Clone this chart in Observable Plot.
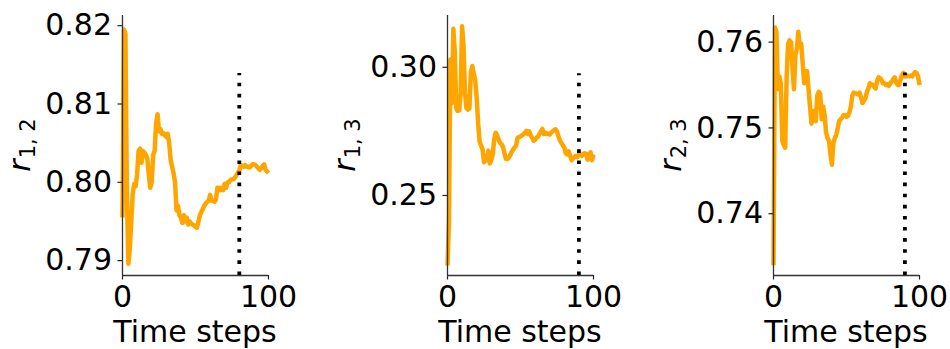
<!DOCTYPE html>
<html>
<head>
<meta charset="utf-8">
<script src="https://cdn.jsdelivr.net/npm/d3@7"></script>
<script src="https://cdn.jsdelivr.net/npm/@observablehq/plot@0.6"></script>
<style>
  html, body { margin: 0; padding: 0; background: #fff; }
  #chart { position: relative; width: 950px; height: 349px; overflow: hidden; background: #fff; }
  #chart svg { position: absolute; top: 0; }
</style>
</head>
<body>
<div id="chart"></div>
<script>
const timeSteps = d3.range(0, 101);

const r12 = [0.7955, 0.8195, 0.8190, 0.7990, 0.7896, 0.7915, 0.7950, 0.7985, 0.7998, 0.7995,
 0.8010, 0.8040, 0.8043, 0.8025, 0.8040, 0.8038, 0.8035, 0.8030, 0.8010, 0.7993,
 0.8000, 0.8035, 0.8040, 0.8075, 0.8087, 0.8065, 0.8068, 0.8062, 0.8063, 0.8060,
 0.8058, 0.8062, 0.8050, 0.8028, 0.8020, 0.8011, 0.8000, 0.7964, 0.7970, 0.7958,
 0.7955, 0.7948, 0.7958, 0.7950, 0.7955, 0.7946, 0.7950, 0.7947, 0.7946, 0.7945,
 0.7943, 0.7942, 0.7950, 0.7958, 0.7962, 0.7966, 0.7970, 0.7973, 0.7975, 0.7976,
 0.7984, 0.7977, 0.7976, 0.7975, 0.7978, 0.7993, 0.7993, 0.7990, 0.7993, 0.7990,
 0.7998, 0.7993, 0.8000, 0.8000, 0.8003, 0.8004, 0.8004, 0.8006, 0.8009, 0.8012,
 0.8015, 0.8022, 0.8021, 0.8020, 0.8022, 0.8020, 0.8020, 0.8019, 0.8021, 0.8023,
 0.8023, 0.8022, 0.8020, 0.8018, 0.8016, 0.8018, 0.8021, 0.8023, 0.8016, 0.8014, 0.8012];

const r13 = [0.2227, 0.2400, 0.3030, 0.2860, 0.3150, 0.3060, 0.2840, 0.2830, 0.2832, 0.2900,
 0.3160, 0.3080, 0.2900, 0.2840, 0.2835, 0.2840, 0.2980, 0.3005, 0.2975, 0.2950,
 0.2880, 0.2780, 0.2710, 0.2695, 0.2680, 0.2630, 0.2635, 0.2645, 0.2675, 0.2625,
 0.2640, 0.2660, 0.2720, 0.2745, 0.2735, 0.2718, 0.2705, 0.2700, 0.2690, 0.2665,
 0.2643, 0.2642, 0.2648, 0.2658, 0.2670, 0.2680, 0.2688, 0.2695, 0.2725, 0.2728,
 0.2730, 0.2735, 0.2738, 0.2745, 0.2752, 0.2740, 0.2750, 0.2735, 0.2725, 0.2714,
 0.2718, 0.2725, 0.2730, 0.2740, 0.2750, 0.2760, 0.2740, 0.2745, 0.2740, 0.2742,
 0.2738, 0.2745, 0.2750, 0.2755, 0.2758, 0.2750, 0.2730, 0.2715, 0.2705, 0.2695,
 0.2688, 0.2665, 0.2660, 0.2672, 0.2655, 0.2638, 0.2645, 0.2650, 0.2655, 0.2650,
 0.2658, 0.2660, 0.2655, 0.2662, 0.2665, 0.2662, 0.2640, 0.2660, 0.2668, 0.2638, 0.2660];

const r23 = [0.7340, 0.7617, 0.7612, 0.7545, 0.7560, 0.7552, 0.7485, 0.7480, 0.7477, 0.7560,
 0.7598, 0.7602, 0.7600, 0.7570, 0.7545, 0.7585, 0.7592, 0.7612, 0.7595, 0.7598,
 0.7575, 0.7552, 0.7566, 0.7566, 0.7545, 0.7525, 0.7505, 0.7515, 0.7520, 0.7508,
 0.7538, 0.7542, 0.7540, 0.7510, 0.7525, 0.7515, 0.7495, 0.7488, 0.7485, 0.7470,
 0.7457, 0.7482, 0.7488, 0.7492, 0.7500, 0.7508, 0.7510, 0.7512, 0.7515, 0.7515,
 0.7513, 0.7514, 0.7518, 0.7525, 0.7538, 0.7541, 0.7540, 0.7540, 0.7539, 0.7541,
 0.7535, 0.7529, 0.7532, 0.7535, 0.7542, 0.7546, 0.7552, 0.7551, 0.7550, 0.7548,
 0.7546, 0.7555, 0.7559, 0.7558, 0.7556, 0.7552, 0.7552, 0.7550, 0.7551, 0.7549,
 0.7552, 0.7554, 0.7557, 0.7559, 0.7553, 0.7550, 0.7550, 0.7556, 0.7562, 0.7564,
 0.7560, 0.7560, 0.7561, 0.7560, 0.7561, 0.7560, 0.7563, 0.7565, 0.7564, 0.7560, 0.7550];

const seriesList = [r12, r13, r23];
const subscripts = ["1, 2", "1, 3", "2, 3"];
const cutoffs = [80, 90, 90];
const cutoffTops = [0.8139, 0.2975, 0.7564];
const yDomains = [[0.7881, 0.8213], [0.2188, 0.3202], [0.7328, 0.7631]];
const yTicks = [[0.79, 0.80, 0.81, 0.82], [0.25, 0.30], [0.74, 0.75, 0.76]];
const xTicks = [0, 100];
const xLabel = "Time steps";

const FONT = "DejaVu Sans";
const FS = 30;
const panelLefts = [0, 325, 650.7];
const W = 325, H = 349, ML = 122, MR = 57, MT = 15, MB = 74;

const chart = document.getElementById("chart");

seriesList.forEach((vals, i) => {
  const data = timeSteps.map((t, k) => ({t, v: vals[k]}));
  const [lo, hi] = yDomains[i];
  const svg = Plot.plot({
    width: W, height: H,
    marginLeft: ML, marginRight: MR, marginTop: MT, marginBottom: MB,
    style: {fontFamily: FONT, fontSize: FS + "px", color: "black", background: "white", overflow: "visible"},
    x: {domain: [0, 100]},
    y: {domain: [lo, hi]},
    marks: [
      Plot.line(data, {x: "t", y: "v", stroke: "#FFA500", strokeWidth: 4.5, strokeLinejoin: "round", strokeLinecap: "butt"}),
      Plot.ruleX([cutoffs[i]], {y1: lo, y2: cutoffTops[i], stroke: "black", strokeWidth: 3.8, strokeDasharray: "3.6,7.5", strokeLinecap: "butt"}),
      Plot.axisY({ticks: yTicks[i], tickFormat: ".2f", tickSize: 4.5, tickPadding: 6, fontSize: FS, label: null, stroke: "#222", strokeWidth: 1.2}),
      Plot.axisX({ticks: xTicks, tickFormat: d => String(d), tickSize: 4.5, tickPadding: 6, fontSize: FS, label: null, stroke: "#222", strokeWidth: 1.2}),
      Plot.ruleX([0], {stroke: "#333", strokeWidth: 1.3}),
      Plot.ruleY([lo], {stroke: "#333", strokeWidth: 1.3})
    ]
  });
  svg.style.left = panelLefts[i] + "px";
  const s = d3.select(svg);
  s.append("text")
    .attr("x", ML + (W - ML - MR) / 2)
    .attr("y", 342)
    .attr("text-anchor", "middle")
    .attr("font-family", FONT)
    .attr("font-size", FS)
    .attr("fill", "black")
    .text(xLabel);
  const yl = s.append("text")
    .attr("transform", `translate(${ML - 92},${MT + (H - MT - MB) / 2}) rotate(-90)`)
    .attr("text-anchor", "middle")
    .attr("font-family", FONT)
    .attr("font-size", FS)
    .attr("fill", "black");
  yl.append("tspan").attr("font-style", "italic").text("r");
  yl.append("tspan").attr("font-size", 21).attr("dy", 5).attr("dx", 1).text(subscripts[i]);
  chart.appendChild(svg);
});
</script>
</body>
</html>
